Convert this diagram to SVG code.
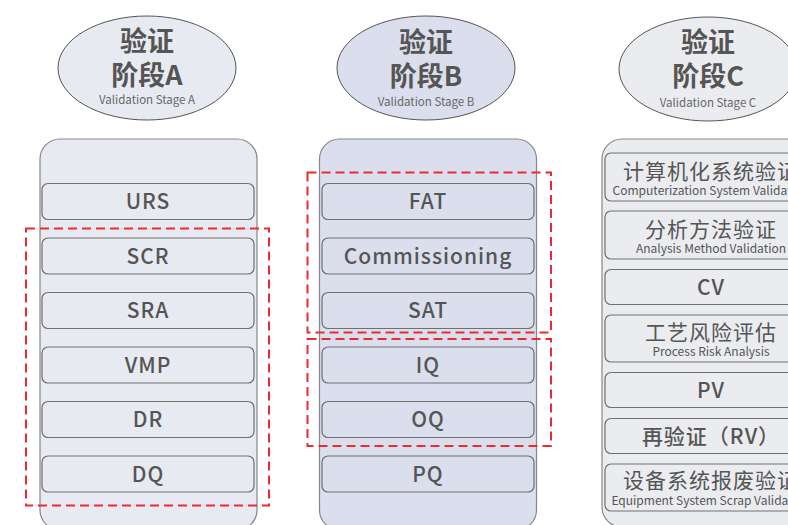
<svg xmlns="http://www.w3.org/2000/svg" width="788" height="525" viewBox="0 0 788 525">
<style>
.ell{stroke:#555;stroke-width:1}
.col{stroke:#888;stroke-width:1.2}
.box{stroke:#707070;stroke-width:1.2}
.ha{fill:#555;font-family:"Noto Sans CJK SC","Noto Sans",sans-serif;font-size:27px;font-weight:bold;text-anchor:middle}
.hs{fill:#666;font-family:"Noto Sans CJK SC","Noto Sans",sans-serif;font-size:11.5px;text-anchor:middle}
.t{fill:#555;font-family:"Noto Sans CJK SC","Noto Sans",sans-serif;font-size:21px;font-weight:500;letter-spacing:1px;text-anchor:middle}
.tc{fill:#555;font-family:"Noto Sans CJK SC","Noto Sans",sans-serif;font-size:21px;letter-spacing:1px;text-anchor:middle}
.ts{fill:#555;font-family:"Noto Sans CJK SC","Noto Sans",sans-serif;font-size:12px;text-anchor:middle}
.red{fill:none;stroke:#ec2a30;stroke-width:2;stroke-dasharray:9 5}
.fa{fill:#e8eaf2}.fb{fill:#dbdfed}.fc{fill:#ebecef}
</style>
<rect width="788" height="525" fill="#fff"/>
<g id="stageA">
<ellipse class="ell fa" cx="147" cy="68" rx="89" ry="52"/>
<text class="ha" x="147" y="51">验证</text>
<text class="ha" x="147" y="85">阶段A</text>
<text class="hs" x="147" y="104">Validation Stage A</text>
</g>
<g id="stageB">
<ellipse class="ell fb" cx="426" cy="68" rx="89" ry="52"/>
<text class="ha" x="426" y="52">验证</text>
<text class="ha" x="426" y="86">阶段B</text>
<text class="hs" x="426" y="106">Validation Stage B</text>
</g>
<g id="stageC">
<ellipse class="ell fc" cx="708" cy="69" rx="89" ry="52"/>
<text class="ha" x="708" y="52">验证</text>
<text class="ha" x="708" y="86">阶段C</text>
<text class="hs" x="708" y="107">Validation Stage C</text>
</g>
<g id="columnA">
<rect class="col fa" x="40" y="139" width="217" height="391" rx="20"/>
<g id="URS"><rect class="box fa" x="42" y="183.5" width="212" height="36" rx="6"/><text class="t" x="148" y="209">URS</text></g>
<g id="SCR"><rect class="box fa" x="42" y="238" width="212" height="36" rx="6"/><text class="t" x="148" y="263.5">SCR</text></g>
<g id="SRA"><rect class="box fa" x="42" y="292.5" width="212" height="36" rx="6"/><text class="t" x="148" y="318">SRA</text></g>
<g id="VMP"><rect class="box fa" x="42" y="347" width="212" height="36" rx="6"/><text class="t" x="148" y="372.5">VMP</text></g>
<g id="DR"><rect class="box fa" x="42" y="401.5" width="212" height="36" rx="6"/><text class="t" x="148" y="427">DR</text></g>
<g id="DQ"><rect class="box fa" x="42" y="456" width="212" height="36" rx="6"/><text class="t" x="148" y="481.5">DQ</text></g>
</g>
<g id="columnB">
<rect class="col fb" x="319.5" y="139" width="217" height="391" rx="20"/>
<g id="FAT"><rect class="box fb" x="322" y="183.5" width="212" height="36" rx="6"/><text class="t" x="428" y="209">FAT</text></g>
<g id="Commissioning"><rect class="box fb" x="322" y="238" width="212" height="36" rx="6"/><text class="t" x="428" y="263.5">Commissioning</text></g>
<g id="SAT"><rect class="box fb" x="322" y="292.5" width="212" height="36" rx="6"/><text class="t" x="428" y="318">SAT</text></g>
<g id="IQ"><rect class="box fb" x="322" y="347" width="212" height="36" rx="6"/><text class="t" x="428" y="372.5">IQ</text></g>
<g id="OQ"><rect class="box fb" x="322" y="401.5" width="212" height="36" rx="6"/><text class="t" x="428" y="427">OQ</text></g>
<g id="PQ"><rect class="box fb" x="322" y="456" width="212" height="36" rx="6"/><text class="t" x="428" y="481.5">PQ</text></g>
</g>
<g id="columnC">
<rect class="col fc" x="602" y="139" width="218" height="388" rx="20"/>
<g id="CSV"><rect class="box fc" x="605" y="153" width="212" height="48" rx="6"/><text class="tc" x="711" y="179">计算机化系统验证</text><text class="ts" x="711" y="195">Computerization System Validation</text></g>
<g id="AMV"><rect class="box fc" x="605" y="211" width="212" height="48" rx="6"/><text class="tc" x="711" y="237">分析方法验证</text><text class="ts" x="711" y="253">Analysis Method Validation</text></g>
<g id="CV"><rect class="box fc" x="605" y="269.5" width="212" height="35" rx="6"/><text class="t" x="711" y="294.5">CV</text></g>
<g id="PRA"><rect class="box fc" x="605" y="315" width="212" height="47" rx="6"/><text class="tc" x="711" y="340">工艺风险评估</text><text class="ts" x="711" y="356">Process Risk Analysis</text></g>
<g id="PV"><rect class="box fc" x="605" y="372.5" width="212" height="35" rx="6"/><text class="t" x="711" y="397.5">PV</text></g>
<g id="RV"><rect class="box fc" x="605" y="418.5" width="212" height="35" rx="6"/><text class="t" x="711" y="443.5">再验证（RV）</text></g>
<g id="ESSV"><rect class="box fc" x="605" y="464" width="212" height="47" rx="6"/><text class="tc" x="711" y="488">设备系统报废验证</text><text class="ts" x="711" y="505">Equipment System Scrap Validation</text></g>
</g>
<g id="connectors">
<rect class="red" x="26" y="228.5" width="243" height="277"/>
<rect class="red" x="307.5" y="172.5" width="243.5" height="160"/>
<rect class="red" x="307.5" y="339" width="243.5" height="107"/>
</g>
</svg>
